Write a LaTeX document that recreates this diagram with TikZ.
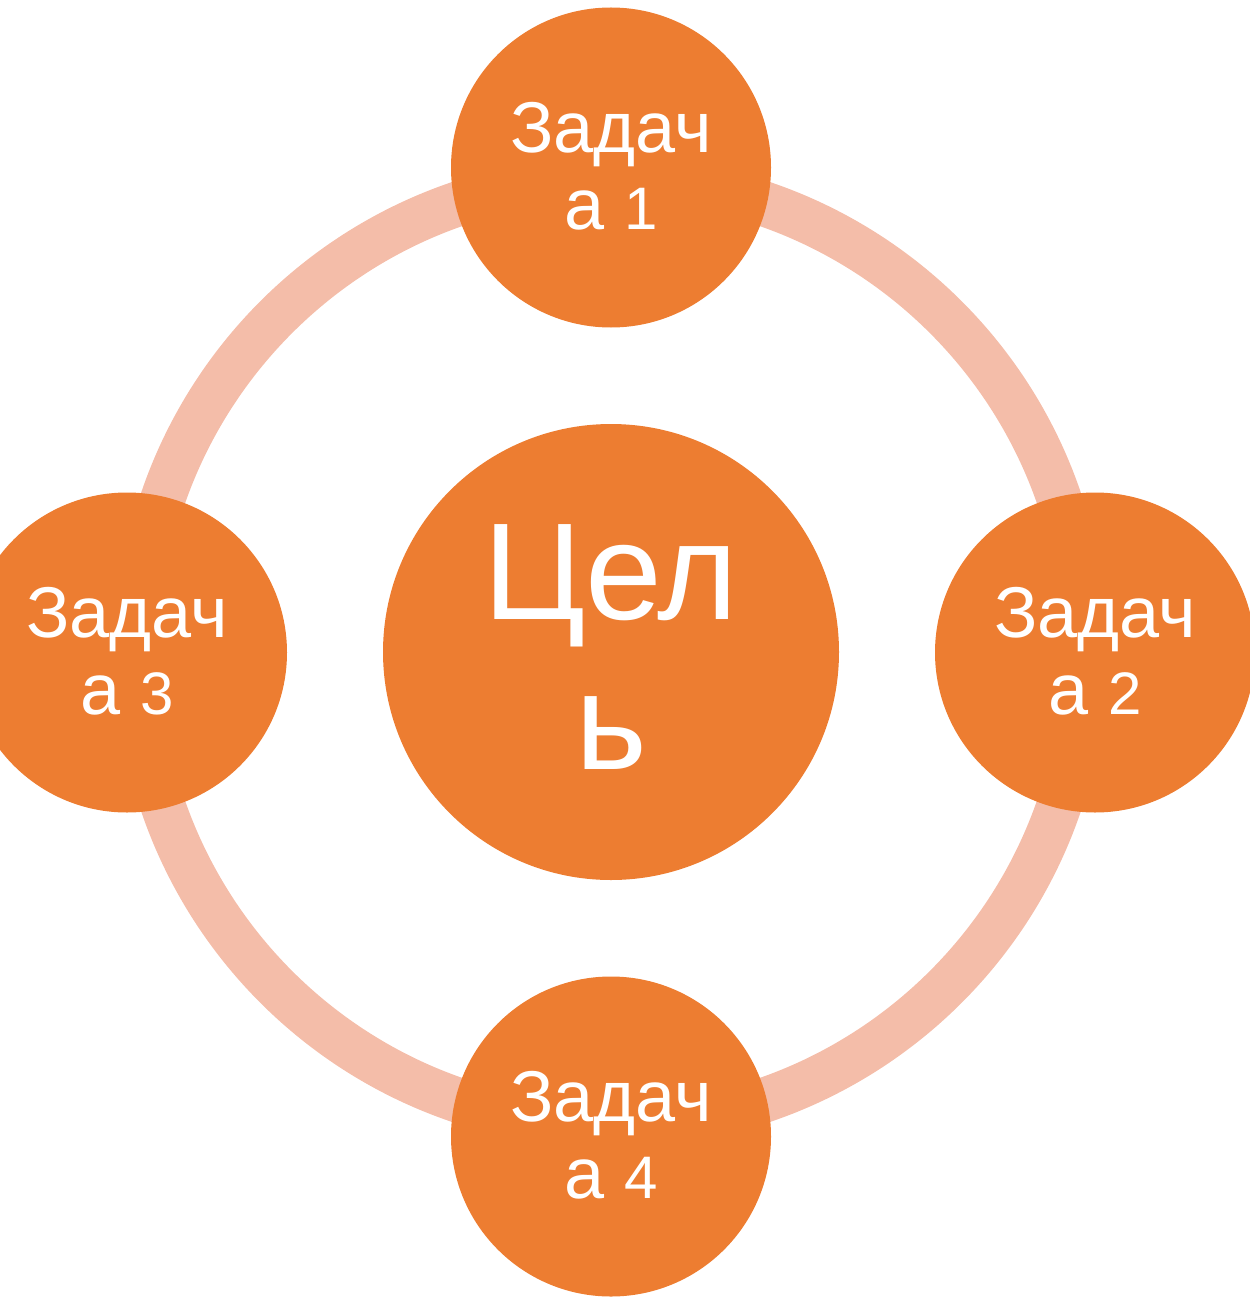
\documentclass[tikz,border=0pt]{standalone}
\usepackage{fontspec}
\setmainfont{Liberation Sans}
\definecolor{accent}{RGB}{237,125,49}
\definecolor{ringcol}{RGB}{244,189,169}
\newcommand{\dg}[1]{{\fontsize{60}{77}\selectfont #1}}
\begin{document}
\begin{tikzpicture}[x=1pt,y=-1pt,
  ringline/.style={draw=ringcol,line width=45pt},
  bigdisc/.style={circle,fill=accent,draw=none,inner sep=0pt,minimum size=456pt},
  smalldisc/.style={circle,fill=accent,draw=none,inner sep=0pt,minimum size=320pt},
  smalltext/.style={text=white,align=center,inner sep=0pt,font=\fontsize{72}{77}\selectfont},
  bigtext/.style={text=white,align=center,inner sep=0pt,font=\fontsize{138}{150}\selectfont}]
\useasboundingbox (0,0) rectangle (1249,1297);
\coordinate (o) at (611,652);
\draw[ringline] (o) circle[radius=473.5pt];
\node[bigdisc] (goal) at (o) {};
\node[smalldisc] (t1) at (611,167.5) {};
\node[smalldisc] (t2) at (1095,652.5) {};
\node[smalldisc] (t3) at (127,652.5) {};
\node[smalldisc] (t4) at (611,1136.5) {};
\node[bigtext] (goaltext) at ([yshift=5pt]goal.center) {Цел\\ь};
\node[smalltext] (t1text) at ([yshift=1pt]t1.center) {Задач\\а \dg{1}};
\node[smalltext] (t2text) at ([yshift=1pt]t2.center) {Задач\\а \dg{2}};
\node[smalltext] (t3text) at ([yshift=1pt]t3.center) {Задач\\а \dg{3}};
\node[smalltext] (t4text) at ([yshift=1pt]t4.center) {Задач\\а \dg{4}};
\end{tikzpicture}
\end{document}
